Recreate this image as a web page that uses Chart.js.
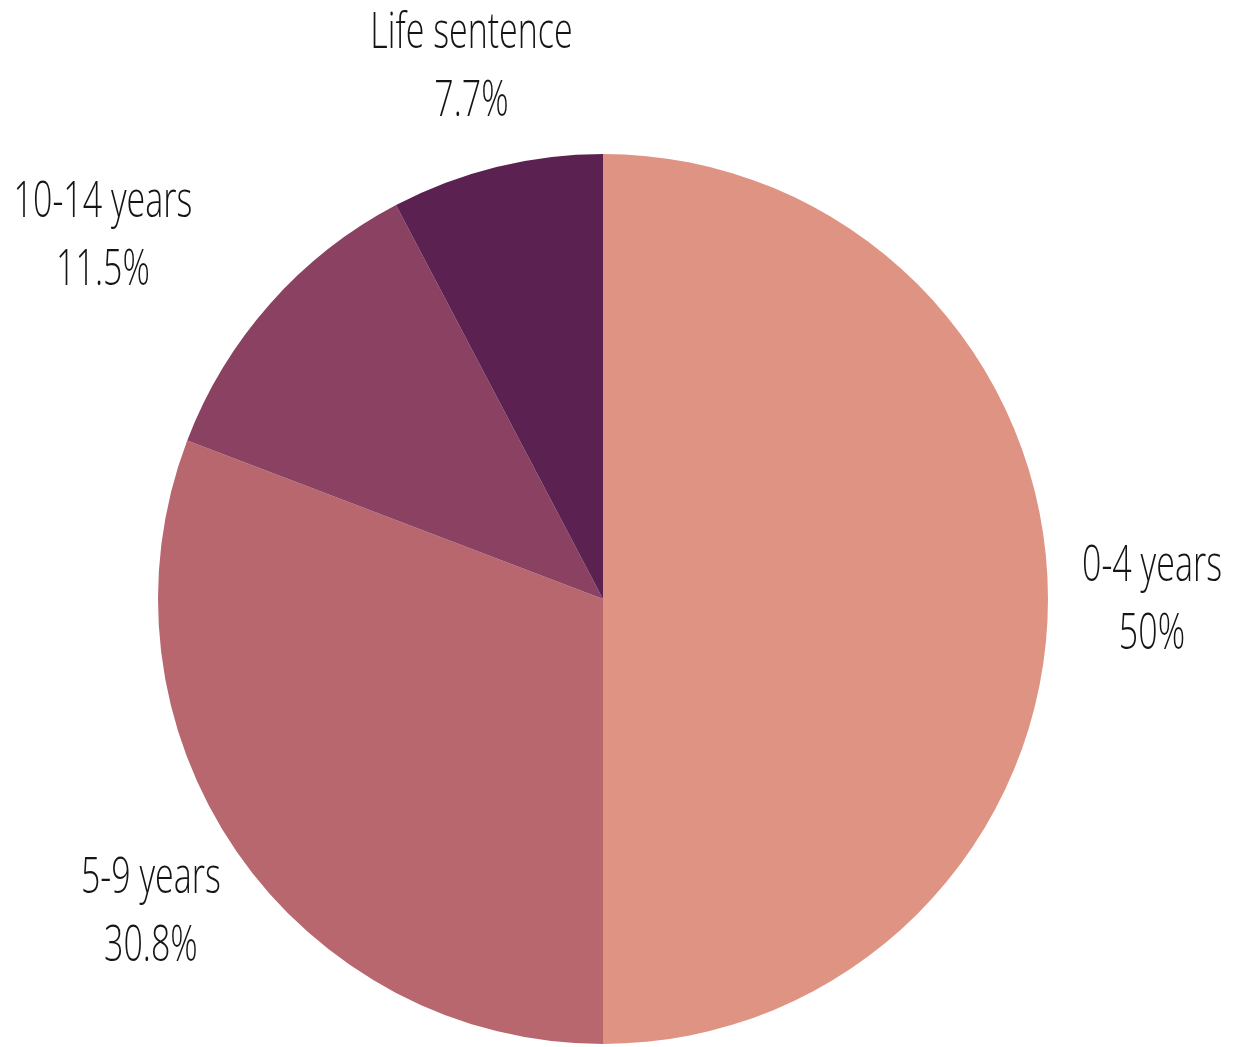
<!DOCTYPE html>
<html lang="en">
<head>
    <meta charset="UTF-8">
    <title>Sentence length</title>
    <style>
        html, body { margin: 0; padding: 0; background: #ffffff; }
        #wrap { width: 1238px; height: 1047px; }
    </style>
</head>
<body>
    <div id="wrap"><canvas id="pie"></canvas></div>
    <script src="https://cdn.jsdelivr.net/npm/chart.js@4.2.1/dist/chart.umd.min.js"></script>
    <script>
        // data
        var categories = ['0-4 years', '5-9 years', '10-14 years', 'Life sentence'];
        var shares = [50, 30.8, 11.5, 7.7];
        var shareLabels = ['50%', '30.8%', '11.5%', '7.7%'];
        var sliceColors = ['#df9382', '#b8676f', '#8b4262', '#5b2150'];

        // outside labels, drawn in a narrow face (canvas squeezed sideways)
        var outsideLabels = {
            id: 'outsideLabels',
            afterDatasetsDraw: function(chart, args, opts) {
                var ctx = chart.ctx;
                var arcs = chart.getDatasetMeta(0).data;
                ctx.save();
                ctx.font = '300 50px "Open Sans"';
                ctx.fillStyle = '#151515';
                ctx.textBaseline = 'middle';
                arcs.forEach(function(arc, i) {
                    var mid = (arc.startAngle + arc.endAngle) / 2;
                    var r = arc.outerRadius + opts.offset;
                    var x = arc.x + Math.cos(mid) * r;
                    var y = arc.y + Math.sin(mid) * r;
                    var lines = [categories[i], shareLabels[i]];
                    var widths = lines.map(function(t) { return ctx.measureText(t).width * opts.squeeze; });
                    var blockW = Math.max.apply(null, widths);
                    // centre of the text block
                    var cx = opts.align[i] === 'right' ? x - blockW / 2 : x;
                    lines.forEach(function(t, j) {
                        ctx.save();
                        ctx.translate(cx - widths[j] / 2, y + (j - 0.5) * opts.lineHeight + 2);
                        ctx.scale(opts.squeeze, 1);
                        ctx.textAlign = 'left';
                        ctx.fillText(t, 0, 0);
                        ctx.restore();
                    });
                });
                ctx.restore();
            }
        };

        new Chart(document.getElementById('pie').getContext('2d'), {
            type: 'pie',
            data: {
                labels: categories,
                datasets: [{
                    data: shares,
                    backgroundColor: sliceColors,
                    borderWidth: 0
                }]
            },
            options: {
                responsive: true,
                maintainAspectRatio: false,
                animation: false,
                layout: { padding: { top: 154, bottom: 3, left: 158, right: 190 } },
                plugins: {
                    legend: { display: false },
                    tooltip: { enabled: false },
                    outsideLabels: { offset: 104, lineHeight: 68, squeeze: 0.68, align: ['center', 'center', 'right', 'center'] }
                }
            },
            plugins: [outsideLabels]
        });
    </script>
</body>
</html>
